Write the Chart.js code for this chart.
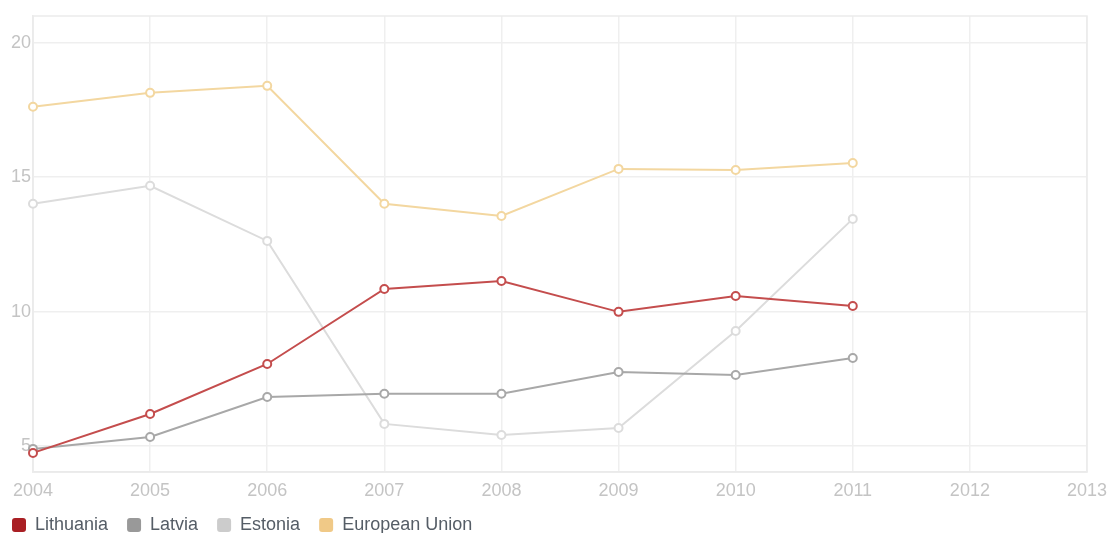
<!DOCTYPE html>
<html>
<head>
<meta charset="utf-8">
<script src="https://cdn.jsdelivr.net/npm/chart.js@4/dist/chart.umd.min.js"></script>
<style>
  html, body { margin: 0; padding: 0; background: #fff; }
  #wrap { width: 1109px; height: 533px; position: relative; }
</style>
</head>
<body>
<div id="wrap"><canvas id="c"></canvas></div>
<script>
const years = ['2004','2005','2006','2007','2008','2009','2010','2011','2012','2013'];
const lithuania = [4.74, 6.19, 8.05, 10.84, 11.14, 9.99, 10.58, 10.21, null, null];
const latvia = [4.89, 5.33, 6.82, 6.94, 6.94, 7.75, 7.64, 8.27, null, null];
const estonia = [14.01, 14.68, 12.63, 5.82, 5.41, 5.67, 9.28, 13.45, null, null];
const europeanUnion = [17.62, 18.14, 18.40, 14.01, 13.56, 15.31, 15.27, 15.53, null, null];
const yTicks = [5, 10, 15, 20];

const FONT = 'Liberation Sans, Arial, sans-serif';

function ds(label, data, line, legend) {
  return {
    label, data,
    borderColor: line, backgroundColor: legend,
    borderWidth: 2,
    pointRadius: 4, pointBorderWidth: 2,
    pointBackgroundColor: '#fff', pointBorderColor: line,
    tension: 0, spanGaps: false
  };
}

const frame = {
  id: 'frame',
  afterLayout(chart) {
    if (chart.legend) chart.legend.left -= 7;
  },
  beforeDatasetsDraw(chart) {
    const a = chart.chartArea, ctx = chart.ctx;
    ctx.save();
    ctx.strokeStyle = '#ebebeb';
    ctx.lineWidth = 1.5;
    ctx.strokeRect(a.left, a.top, a.right - a.left, a.bottom - a.top);
    ctx.restore();
  }
};

new Chart(document.getElementById('c'), {
  type: 'line',
  data: {
    labels: years,
    datasets: [
      ds('Lithuania', lithuania, '#c44d4d', '#a91f24'),
      ds('Latvia', latvia, '#a8a8a8', '#999999'),
      ds('Estonia', estonia, '#dcdcdc', '#cccccc'),
      ds('European Union', europeanUnion, '#f3d7a0', '#f0c987')
    ]
  },
  plugins: [frame],
  options: {
    responsive: true,
    maintainAspectRatio: false,
    animation: false,
    layout: { padding: { left: 0, right: 0, top: 16, bottom: -11 } },
    plugins: {
      tooltip: { enabled: false },
      legend: {
        position: 'bottom',
        align: 'start',
        labels: {
          useBorderRadius: true,
          borderRadius: 3,
          boxWidth: 14, boxHeight: 14,
          padding: 19,
          color: '#555d66',
          font: { family: FONT, size: 18 },
          generateLabels(chart) {
            return chart.data.datasets.map((d, i) => ({
              text: d.label, fillStyle: d.backgroundColor, strokeStyle: d.backgroundColor,
              lineWidth: 0, borderRadius: 3, datasetIndex: i, hidden: false,
              fontColor: '#555d66'
            }));
          }
        }
      }
    },
    scales: {
      x: {
        offset: false,
        afterFit(axis) { axis.height = 25; axis.paddingRight = 22; axis.paddingLeft = 0; },
        grid: { color: '#efefef', lineWidth: 1.5, drawTicks: false },
        border: { color: '#e6e6e6', width: 1.5 },
        ticks: {
          color: '#c4c4c4', padding: 8, maxRotation: 0, autoSkip: false,
          font: { family: FONT, size: 18 }
        }
      },
      y: {
        min: 4.03, max: 21,
        afterBuildTicks(axis) { axis.ticks = yTicks.map(v => ({ value: v })); },
        afterFit(axis) { axis.width = 33; },
        grid: { color: '#efefef', lineWidth: 1.5, drawTicks: false },
        border: { color: '#ebebeb', width: 1.5 },
        ticks: {
          color: '#c4c4c4', padding: 2,
          font: { family: FONT, size: 18 }
        }
      }
    }
  }
});
</script>
</body>
</html>
